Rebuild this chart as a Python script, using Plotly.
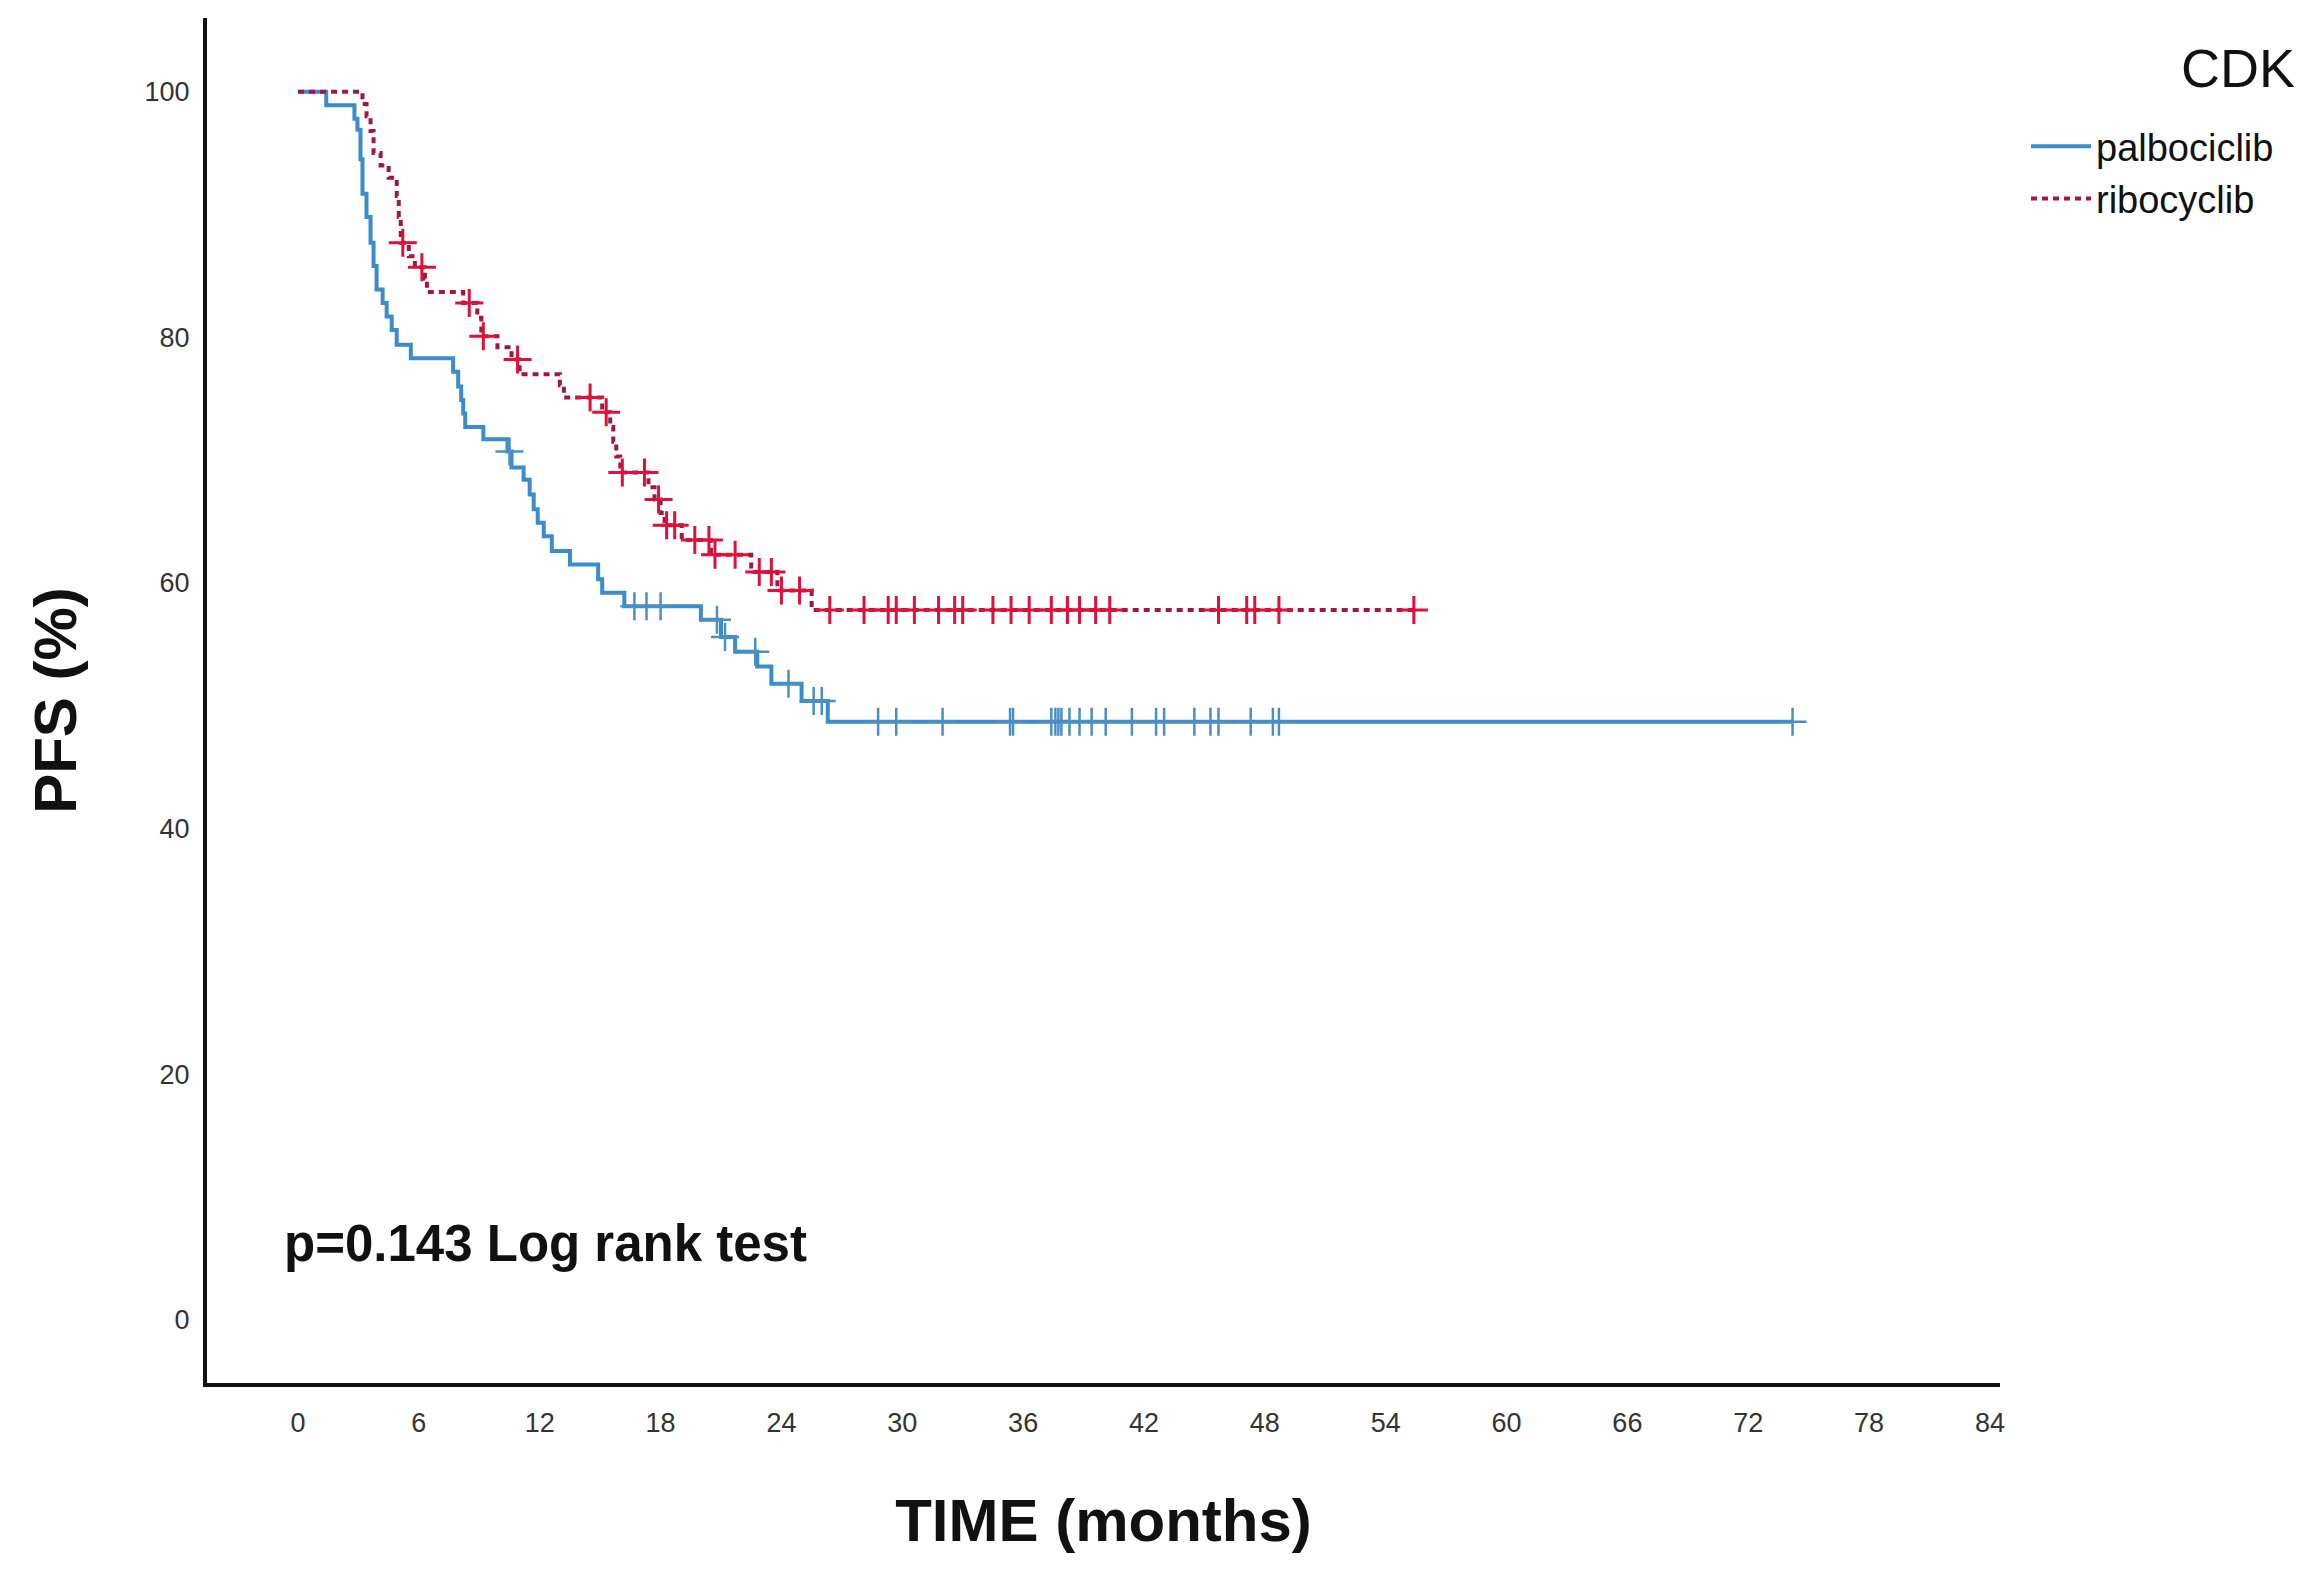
import numpy as np
import plotly.graph_objects as go

# ---------------- data ----------------
x_ticks = [0, 6, 12, 18, 24, 30, 36, 42, 48, 54, 60, 66, 72, 78, 84]
y_ticks = [0, 20, 40, 60, 80, 100]

# palbociclib: KM step function (time in months, PFS %)
palbo_times = [0, 1.4, 2.8, 2.95, 3.1, 3.2, 3.4, 3.6, 3.75, 3.9, 4.2, 4.4, 4.65, 4.9, 5.6,
               7.7, 7.95, 8.1, 8.2, 8.3, 9.2, 10.4, 10.6, 11.2, 11.5, 11.7, 11.9, 12.2,
               12.6, 13.5, 14.9, 15.1, 16.2, 20.0, 21.0, 21.7, 22.8, 23.5, 25.0, 26.3]
palbo_surv = [100, 98.9, 97.8, 96.9, 94.5, 91.7, 89.8, 87.7, 85.8, 83.9, 82.8, 81.7, 80.6, 79.4, 78.3,
              77.2, 76.0, 74.9, 73.8, 72.7, 71.7, 70.7, 69.4, 68.4, 67.2, 66.0, 64.9, 63.8,
              62.6, 61.5, 60.3, 59.2, 58.1, 57.0, 55.6, 54.4, 53.2, 51.8, 50.4, 48.7]
palbo_censor = [10.5, 16.7, 17.3, 18.0, 20.8, 21.2, 22.7, 24.35, 25.6, 26.0, 28.8, 29.7, 32.0,
                35.35, 35.5, 37.4, 37.6, 37.75, 37.9, 38.3, 38.8, 39.4, 40.1, 41.4, 42.6, 43.0,
                44.5, 45.3, 45.7, 47.3, 48.4, 48.7, 74.2]

# ribocyclib
ribo_times = [0, 3.2, 3.4, 3.6, 3.75, 4.1, 4.5, 4.9, 5.0, 5.1, 5.5, 5.8, 6.3, 6.4, 8.2, 8.9,
              9.1, 9.9, 10.6, 11.0, 13.0, 13.2, 15.1, 15.5, 15.65, 15.8, 16.0, 17.4, 17.7,
              18.0, 18.2, 19.05, 20.5, 22.5, 23.8, 25.5]
ribo_surv = [100, 99.0, 98.0, 96.8, 95.0, 94.0, 93.0, 91.5, 89.8, 87.7, 86.6, 85.7, 84.8, 83.7,
             82.8, 81.6, 80.1, 79.2, 78.2, 77.0, 76.1, 75.1, 73.9, 72.7, 71.5, 70.3, 69.0,
             67.8, 66.8, 65.7, 64.7, 63.5, 62.3, 60.9, 59.4, 57.8]
ribo_censor = [5.2, 6.15, 8.5, 9.2, 10.9, 14.5, 15.3, 16.1, 17.2, 17.9, 18.3, 18.7, 19.7, 20.4,
               20.7, 21.7, 22.9, 23.5, 24.0, 24.9, 26.4, 28.1, 29.3, 29.7, 30.6, 31.8, 32.6,
               33.0, 34.5, 35.4, 36.3, 37.4, 38.2, 38.8, 39.6, 40.3, 45.7, 47.1, 47.5, 48.7, 55.4]

series_names = ["palbociclib", "ribocyclib"]
legend_title = "CDK"
p_text = "p=0.143 Log rank test"

# ---------------- helpers ----------------
def step_line(times, surv, censor):
    t = list(times)
    s = list(surv)
    if censor and max(censor) > t[-1]:
        t.append(max(censor))
        s.append(s[-1])
    return t, s

def censor_y(times, surv, censor):
    idx = np.searchsorted(np.array(times), np.array(censor), side="right") - 1
    return [surv[i] for i in idx]

W, H = 2318, 1577
L, R, T, B = 199, 326, 10, 202
PW, PH = W - L - R, H - T - B

BLUE = "#3b8ccb"
BLUE_MK = "#4a8fc4"
RED_LINE = "#a3173e"
RED_MK = "#e0103c"

fig = go.Figure()

pt, ps = step_line(palbo_times, palbo_surv, palbo_censor)
fig.add_trace(go.Scatter(x=pt, y=ps, mode="lines", line_shape="hv", name=series_names[0],
                         line=dict(color=BLUE, width=4)))
rt, rs = step_line(ribo_times, ribo_surv, ribo_censor)
fig.add_trace(go.Scatter(x=rt, y=rs, mode="lines", line_shape="hv", name=series_names[1],
                         line=dict(color=RED_LINE, width=4, dash="6px,5px")))

fig.add_trace(go.Scatter(x=palbo_censor, y=censor_y(palbo_times, palbo_surv, palbo_censor),
                         mode="markers", showlegend=False,
                         marker=dict(symbol="cross-thin", size=20,
                                     line=dict(width=2.5, color=BLUE_MK))))
fig.add_trace(go.Scatter(x=ribo_censor, y=censor_y(ribo_times, ribo_surv, ribo_censor),
                         mode="markers", showlegend=False,
                         marker=dict(symbol="cross-thin", size=20,
                                     line=dict(width=3, color=RED_MK))))

fig.add_annotation(x=-0.8, y=6.2, xref="x", yref="y", text="<b>" + p_text + "</b>",
                   showarrow=False, xanchor="left", yanchor="middle",
                   font=dict(family="Liberation Sans", size=51, color="#111"))

# legend title drawn as a right-aligned text label
fig.add_annotation(x=(2289 - L) / PW, y=1 - (60 - T) / PH, xref="paper", yref="paper",
                   text=legend_title, showarrow=False, xanchor="right", yanchor="middle",
                   font=dict(family="Liberation Sans", size=54, color="#111"))

fig.update_layout(
    width=W, height=H,
    margin=dict(l=L, r=R, t=T, b=B),
    plot_bgcolor="white", paper_bgcolor="white",
    hovermode=False,
    legend=dict(x=1.0 + 26 / PW, y=1 - (107 - T) / PH, xanchor="left", yanchor="top",
                font=dict(family="Liberation Sans", size=38, color="#111"),
                itemwidth=60, tracegroupgap=0, bgcolor="rgba(0,0,0,0)"),
    xaxis=dict(range=[-4.52, 84.5], tickvals=x_ticks, ticktext=[str(v) for v in x_ticks],
               showline=True, linewidth=4, linecolor="#111", ticks="", showgrid=False,
               zeroline=False, ticklabelstandoff=13,
               tickfont=dict(family="Liberation Sans", size=27, color="#333"),
               title=dict(text="<b>TIME (months)</b>", standoff=63,
                          font=dict(family="Liberation Sans", size=60, color="#111"))),
    yaxis=dict(range=[-5.13, 106], tickvals=y_ticks, ticktext=[str(v) for v in y_ticks],
               showline=True, linewidth=4, linecolor="#111", ticks="", showgrid=False,
               zeroline=False, ticklabelstandoff=8,
               tickfont=dict(family="Liberation Sans", size=27, color="#333"),
               title=dict(text="<b>PFS (%)</b>", standoff=50,
                          font=dict(family="Liberation Sans", size=60, color="#111"))),
)

fig.write_html("out.html")
